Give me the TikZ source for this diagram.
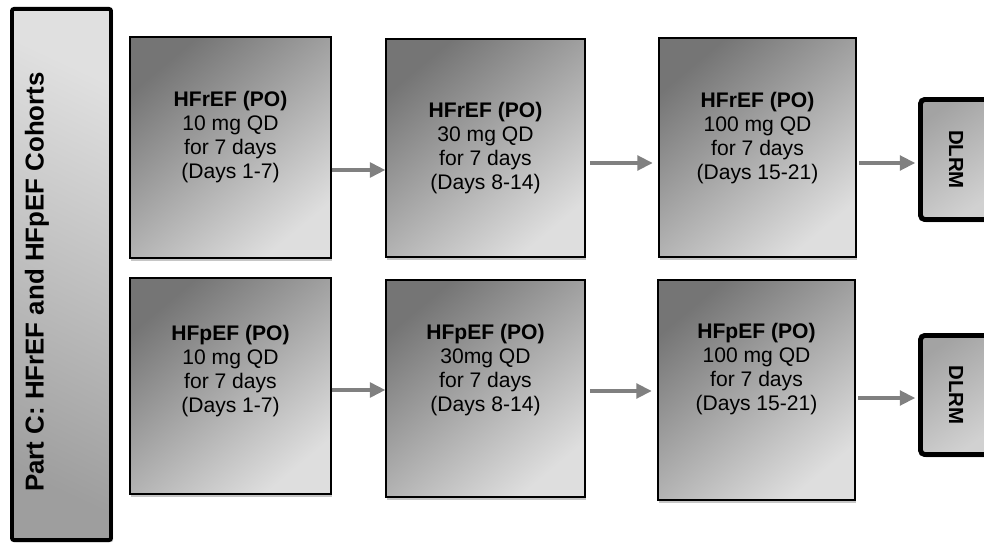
\documentclass[tikz,border=0pt]{standalone}
\usepackage{fontspec}
\setmainfont{Liberation Sans}
\usetikzlibrary{arrows.meta,shadows}

\tikzset{
  box/.style={draw=black, line width=0.9pt, shading=axis,
    top color=black!54, bottom color=black!13, shading angle=40,
    drop shadow={shadow xshift=0.6pt, shadow yshift=-2pt, opacity=0.45}},
  bar/.style={draw=black, line width=2.8pt, rounded corners=1.5pt, shading=axis,
    top color=black!12, bottom color=black!38, shading angle=-25,
    drop shadow={shadow xshift=1.5pt, shadow yshift=-1.5pt, opacity=0.4}},
  dlrm/.style={draw=black, line width=3.5pt, rounded corners=3pt, shading=axis,
    top color=black!36, bottom color=black!18, shading angle=35,
    drop shadow={shadow xshift=1pt, shadow yshift=-2pt, opacity=0.4},
    font=\fontsize{14.5}{17}\selectfont\bfseries},
  txt/.style={align=center, inner sep=0pt, font=\fontsize{15}{17}\selectfont},
  bartxt/.style={rotate=90, inner sep=0pt, font=\fontsize{18.4}{21}\selectfont\bfseries},
  arr/.style={draw=black!50, line width=2.4pt, -{Triangle[length=11pt,width=10.5pt]}}
}

\begin{document}
\begin{tikzpicture}[x=0.025cm,y=-0.025cm]
\useasboundingbox (0,0) rectangle (984,544);
\clip (0,0) rectangle (984,544);

% cohort band
\node[bar, minimum width=2.475cm, minimum height=13.275cm] (part) at (61.5,274.5) {};
\node[bartxt] (partlbl) at (37,282) {Part C: HFrEF and HFpEF Cohorts};

% HFrEF row
\node[box, minimum width=5.025cm, minimum height=5.525cm] (r1) at (230.5,147.5) {};
\node[box, minimum width=4.975cm, minimum height=5.45cm] (r2) at (485.5,148) {};
\node[box, minimum width=4.925cm, minimum height=5.475cm] (r3) at (757.5,147.5) {};
\node[dlrm, minimum width=1.775cm, minimum height=3.0cm] (rd) at (956,159.5) {\rotatebox{-90}{DLRM}};

\node[txt] (r1lbl) at (230.5,137) {\textbf{HFrEF (PO)}\\10 mg QD\\for 7 days\\(Days 1-7)};
\node[txt] (r2lbl) at (485.5,148) {\textbf{HFrEF (PO)}\\30 mg QD\\for 7 days\\(Days 8-14)};
\node[txt] (r3lbl) at (757.5,138) {\textbf{HFrEF (PO)}\\100 mg QD\\for 7 days\\(Days 15-21)};

% HFpEF row
\node[box, minimum width=5.025cm, minimum height=5.4cm] (p1) at (230.5,386) {};
\node[box, minimum width=4.975cm, minimum height=5.425cm] (p2) at (485.5,388.5) {};
\node[box, minimum width=4.925cm, minimum height=5.5cm] (p3) at (756.5,390) {};
\node[dlrm, minimum width=1.775cm, minimum height=2.975cm] (pd) at (956,395) {\rotatebox{-90}{DLRM}};

\node[txt] (p1lbl) at (230.5,371) {\textbf{HFpEF (PO)}\\10 mg QD\\for 7 days\\(Days 1-7)};
\node[txt] (p2lbl) at (485.5,370) {\textbf{HFpEF (PO)}\\30mg QD\\for 7 days\\(Days 8-14)};
\node[txt] (p3lbl) at (756.5,369) {\textbf{HFpEF (PO)}\\100 mg QD\\for 7 days\\(Days 15-21)};

% arrows
\draw[arr] (r1.east |- 0,170) -- (r2.west |- 0,170);
\draw[arr, shorten <=3pt, shorten >=4pt] (r2.east |- 0,163) -- (r3.west |- 0,163);
\draw[arr, shorten <=2pt, shorten >=2pt] (r3.east |- 0,163) -- (rd.west |- 0,163);
\draw[arr] (p1.east |- 0,390) -- (p2.west |- 0,390);
\draw[arr, shorten <=3pt, shorten >=4pt] (p2.east |- 0,391) -- (p3.west |- 0,391);
\draw[arr, shorten <=2pt, shorten >=2pt] (p3.east |- 0,398) -- (pd.west |- 0,398);
\end{tikzpicture}
\end{document}
